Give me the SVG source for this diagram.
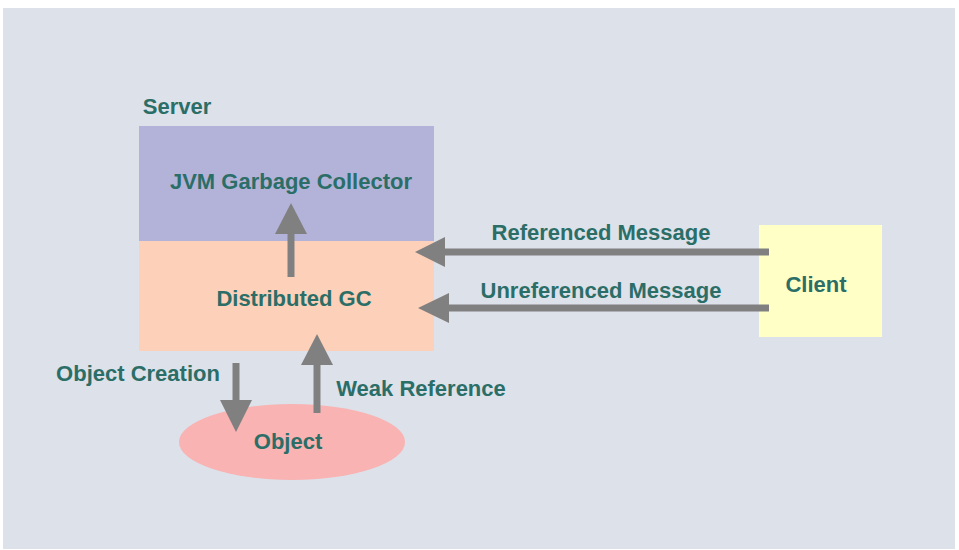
<svg xmlns="http://www.w3.org/2000/svg" width="959" height="550" viewBox="0 0 959 550">
<defs>
<style>
.t{font-family:"Liberation Sans",Arial,sans-serif;font-weight:bold;font-size:22px;fill:#2b6e67;text-anchor:middle}
.ln{stroke:#808080;stroke-width:7;fill:none}
.hd{fill:#808080}
</style>
</defs>
<rect x="0" y="0" width="959" height="550" fill="#ffffff"/>
<rect x="3" y="8" width="952" height="541" fill="#dde1ea"/>
<text class="t" x="177" y="114">Server</text>
<g id="jvm-gc">
<rect x="139" y="126" width="295" height="115" fill="#b3b3d9"/>
<text class="t" x="291" y="189">JVM Garbage Collector</text>
</g>
<g id="distributed-gc">
<rect x="139" y="241" width="295" height="110" fill="#fdd0b9"/>
<text class="t" x="294" y="306">Distributed GC</text>
</g>
<g id="client">
<rect x="759" y="225" width="123" height="112" fill="#ffffc6"/>
<text class="t" x="816" y="292">Client</text>
</g>
<g id="object">
<ellipse cx="292" cy="442" rx="113" ry="38" fill="#f8b3b2"/>
<text class="t" x="288" y="449">Object</text>
</g>
<g id="connectors">
<line class="ln" x1="291" y1="277" x2="291" y2="232"/>
<polygon class="hd" points="291,203 275,234 307,234"/>
<line class="ln" x1="769" y1="252" x2="443" y2="252"/>
<polygon class="hd" points="415,252 445,237 445,267"/>
<line class="ln" x1="769" y1="308" x2="447" y2="308"/>
<polygon class="hd" points="418,308 449,293 449,323"/>
<line class="ln" x1="317" y1="413" x2="317" y2="363"/>
<polygon class="hd" points="317,334 301,365 333,365"/>
<line class="ln" x1="236" y1="363" x2="236" y2="402"/>
<polygon class="hd" points="236,432 220,400 252,400"/>
</g>
<text class="t" x="601" y="240">Referenced Message</text>
<text class="t" x="601" y="298">Unreferenced Message</text>
<text class="t" x="138" y="381">Object Creation</text>
<text class="t" x="421" y="396">Weak Reference</text>
</svg>
